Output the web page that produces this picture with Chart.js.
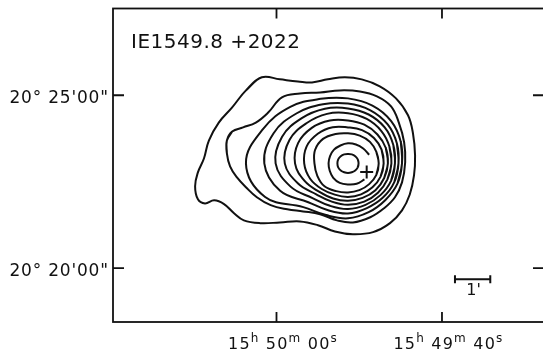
<!DOCTYPE html>
<html>
<head>
<meta charset="utf-8">
<title>1E1549.8+2022 X-ray contours</title>
<script src="https://cdn.jsdelivr.net/npm/chart.js@4/dist/chart.umd.min.js"></script>
<style>
  html, body { margin: 0; padding: 0; background: #fff; }
  #wrap { width: 543px; height: 356px; overflow: hidden; }
  canvas { display: block; }
</style>
</head>
<body>
<div id="wrap"><canvas id="contour-map" width="560" height="356"></canvas></div>
<script>
// RA in seconds past 15h49m, Dec in arcminutes past +20°
const RA_TICKS = [60, 40];
const RA_TICK_LABELS = ["15h 50m 00s", "15h 49m 40s"];
const DEC_TICKS = [25, 20];
const DEC_TICK_LABELS = ["20° 25'00\"", "20° 20'00\""];
const SOURCE_NAME = "IE1549.8 +2022";

// emission peak and the optical position (+)
const PEAK = { ra: 51.36, dec: 23.03 };
const CROSS = { ra: 49.1, dec: 22.78 };

// 1 arcmin scale bar
const BAR = { ra: 38.43, dec: 19.68, length: 1 };

const SEC_PER_ARCMIN = 4 / Math.cos((20 + 23 / 60) * Math.PI / 180);

// two lowest contours, offsets from the peak in arcmin [west, north]
const LEVEL_1 = [
  [-2.44, 2.49], [-1.93, 2.43], [-1.42, 2.37], [-1.02, 2.34], [-0.57, 2.43], [-0.09, 2.49],
  [0.39, 2.43], [0.90, 2.23], [1.36, 1.88], [1.70, 1.39], [1.84, 0.87], [1.90, 0.23],
  [1.87, -0.35], [1.75, -0.90], [1.53, -1.36], [1.19, -1.73], [0.71, -1.99], [0.14, -2.05],
  [-0.37, -1.97], [-0.85, -1.79], [-1.36, -1.68], [-1.93, -1.71], [-2.49, -1.73], [-2.95, -1.65],
  [-3.22, -1.45], [-3.51, -1.18], [-3.79, -1.07], [-4.05, -1.16], [-4.25, -1.04], [-4.33, -0.66],
  [-4.25, -0.26], [-4.08, 0.14], [-3.94, 0.66], [-3.66, 1.18], [-3.28, 1.62], [-2.89, 2.11]
];
const LEVEL_2 = [
  [-3.43, 0.66], [-3.28, 0.92], [-2.97, 1.04], [-2.61, 1.18], [-2.26, 1.47], [-1.87, 1.91],
  [-1.36, 2.02], [-0.79, 2.05], [-0.23, 2.11], [0.34, 2.08], [0.82, 1.94], [1.22, 1.65],
  [1.44, 1.18], [1.59, 0.61], [1.62, 0.03], [1.53, -0.55], [1.33, -0.98], [1.02, -1.30],
  [0.63, -1.56], [0.14, -1.71], [-0.31, -1.65], [-0.79, -1.47], [-1.27, -1.39], [-1.72, -1.33],
  [-2.19, -1.21], [-2.58, -0.98], [-2.89, -0.69], [-3.15, -0.40], [-3.34, -0.09], [-3.43, 0.29]
];

// higher contours: radius (arcmin) every 22.5°, starting due west, turning through north
const LEVEL_3 = [1.53, 1.62, 1.73, 1.81, 1.88, 2.02, 2.31, 2.60, 2.89, 2.54, 1.79, 1.62, 1.59, 1.53, 1.50, 1.52];
const LEVEL_4 = [1.43, 1.50, 1.59, 1.66, 1.73, 1.85, 2.05, 2.28, 2.37, 2.08, 1.59, 1.47, 1.45, 1.40, 1.40, 1.42];
const LEVEL_5 = [1.33, 1.39, 1.47, 1.53, 1.59, 1.71, 1.85, 2.02, 2.05, 1.76, 1.42, 1.33, 1.32, 1.30, 1.30, 1.32];
const LEVEL_6 = [1.23, 1.27, 1.33, 1.39, 1.45, 1.55, 1.65, 1.79, 1.79, 1.53, 1.27, 1.20, 1.20, 1.20, 1.20, 1.21];
const LEVEL_7 = [1.13, 1.16, 1.18, 1.21, 1.24, 1.34, 1.45, 1.53, 1.50, 1.33, 1.16, 1.10, 1.08, 1.08, 1.10, 1.11];
const LEVEL_8 = [1.01, 1.03, 1.04, 1.04, 1.04, 1.13, 1.21, 1.27, 1.24, 1.16, 1.05, 0.98, 0.97, 0.97, 0.98, 1.00];
const LEVEL_9 = [0.87, 0.87, 0.88, 0.87, 0.87, 0.92, 1.00, 1.01, 0.95, 0.94, 0.94, 0.87, 0.84, 0.84, 0.85, 0.87];
const LEVEL_10 = [0.66, 0.65, 0.61, 0.59, 0.58, 0.56, 0.56, 0.55, 0.55, 0.56, 0.59, 0.61, 0.61, 0.64, 0.66, 0.66];
const LEVEL_11 = [0.30, 0.30, 0.29, 0.28, 0.27, 0.28, 0.29, 0.30, 0.30, 0.30, 0.29, 0.28, 0.28, 0.28, 0.29, 0.30];

const ANGLE_STEP = 22.5;
const INK = "#111";
const FONT = "'DejaVu Sans', 'Open Sans', sans-serif";
const TICK = 10;

function toSky(dx, dy) {
  return { x: PEAK.ra - dx * SEC_PER_ARCMIN, y: PEAK.dec + dy };
}

function fromPairs(pairs) {
  return pairs.map(([dx, dy]) => toSky(dx, dy));
}

function fromRadii(radii, first = 0, last = radii.length - 1) {
  const pts = [];
  for (let i = first; i <= last; i++) {
    const a = (i * ANGLE_STEP * Math.PI) / 180;
    pts.push(toSky(radii[i] * Math.cos(a), radii[i] * Math.sin(a)));
  }
  return pts;
}

// repeat the neighbours at both ends so the smoothing closes without a kink
function closeLoop(pts) {
  const n = pts.length;
  return [pts[n - 1], ...pts, pts[0], pts[1]];
}

const contourStyle = {
  showLine: true,
  borderColor: INK,
  borderWidth: 2,
  pointRadius: 0,
  tension: 0.4,
  fill: false,
};

const rings = [
  fromPairs(LEVEL_1),
  fromPairs(LEVEL_2),
  fromRadii(LEVEL_3),
  fromRadii(LEVEL_4),
  fromRadii(LEVEL_5),
  fromRadii(LEVEL_6),
  fromRadii(LEVEL_7),
  fromRadii(LEVEL_8),
  fromRadii(LEVEL_9),
  fromRadii(LEVEL_11),
].map((pts) => ({ ...contourStyle, data: closeLoop(pts) }));

// this level is broken where the optical position sits
rings.push({ ...contourStyle, data: fromRadii(LEVEL_10, 1, 14) });

rings.push({
  data: [{ x: CROSS.ra, y: CROSS.dec }],
  showLine: false,
  pointStyle: "cross",
  pointRadius: 6.5,
  borderColor: INK,
  borderWidth: 2,
});

function spacedWidth(ctx, text, spacing) {
  let w = 0;
  for (const ch of text) w += ctx.measureText(ch).width + spacing;
  return w - spacing;
}

function drawSpaced(ctx, text, x, y, spacing) {
  for (const ch of text) {
    ctx.fillText(ch, x, y);
    x += ctx.measureText(ch).width + spacing;
  }
  return x;
}

// hours/minutes/seconds letters are set as superscripts
function drawRaLabel(ctx, text, left, baseline) {
  let x = left;
  for (const ch of text) {
    const sup = "hms".includes(ch);
    ctx.font = (sup ? "12px " : "16px ") + FONT;
    ctx.fillText(ch, x, sup ? baseline - 7 : baseline);
    x += ctx.measureText(ch).width + 1.2;
  }
}

const framePlugin = {
  id: "frame",
  afterDraw(chart) {
    const { ctx, chartArea: a, scales } = chart;
    const xs = scales.x;
    const ys = scales.y;
    ctx.save();
    ctx.strokeStyle = INK;
    ctx.fillStyle = INK;
    ctx.lineWidth = 1.8;
    ctx.strokeRect(a.left, a.top, a.right - a.left, a.bottom - a.top);

    ctx.beginPath();
    RA_TICKS.forEach((v) => {
      const px = xs.getPixelForValue(v);
      ctx.moveTo(px, a.bottom);
      ctx.lineTo(px, a.bottom - TICK);
      ctx.moveTo(px, a.top);
      ctx.lineTo(px, a.top + TICK);
    });
    DEC_TICKS.forEach((v) => {
      const py = ys.getPixelForValue(v);
      ctx.moveTo(a.left, py);
      ctx.lineTo(a.left + TICK + 1, py);
      ctx.moveTo(a.right, py);
      ctx.lineTo(a.right - TICK - 1, py);
    });
    ctx.stroke();

    ctx.textBaseline = "alphabetic";
    ctx.textAlign = "left";
    RA_TICKS.forEach((v, i) => {
      drawRaLabel(ctx, RA_TICK_LABELS[i], xs.getPixelForValue(v) - 48.5, a.bottom + 26.5);
    });

    ctx.font = "17px " + FONT;
    DEC_TICKS.forEach((v, i) => {
      const label = DEC_TICK_LABELS[i];
      const w = spacedWidth(ctx, label, 0.8);
      drawSpaced(ctx, label, a.left - 5 - w, ys.getPixelForValue(v) + 8, 0.8);
    });

    ctx.font = "20px " + FONT;
    drawSpaced(ctx, SOURCE_NAME, a.left + 18, a.top + 39, 0.5);

    // scale bar
    const bx0 = xs.getPixelForValue(BAR.ra);
    const bx1 = xs.getPixelForValue(BAR.ra - BAR.length * SEC_PER_ARCMIN);
    const by = ys.getPixelForValue(BAR.dec);
    ctx.lineWidth = 2;
    ctx.beginPath();
    ctx.moveTo(bx0, by);
    ctx.lineTo(bx1, by);
    ctx.moveTo(bx0, by - 4);
    ctx.lineTo(bx0, by + 4);
    ctx.moveTo(bx1, by - 4);
    ctx.lineTo(bx1, by + 4);
    ctx.stroke();
    ctx.font = "16px " + FONT;
    ctx.textAlign = "center";
    ctx.fillText("1'", (bx0 + bx1) / 2 + 1, by + 16);
    ctx.restore();
  },
};

new Chart(document.getElementById("contour-map"), {
  type: "scatter",
  data: { datasets: rings },
  options: {
    responsive: false,
    devicePixelRatio: 1,
    animation: false,
    layout: { padding: { left: 113, right: 16, top: 8, bottom: 34 } },
    plugins: { legend: { display: false }, tooltip: { enabled: false } },
    scales: {
      x: { type: "linear", reverse: true, min: 27.67, max: 79.76, display: false },
      y: { type: "linear", min: 18.44, max: 27.51, display: false },
    },
  },
  plugins: [framePlugin],
});
</script>
</body>
</html>
